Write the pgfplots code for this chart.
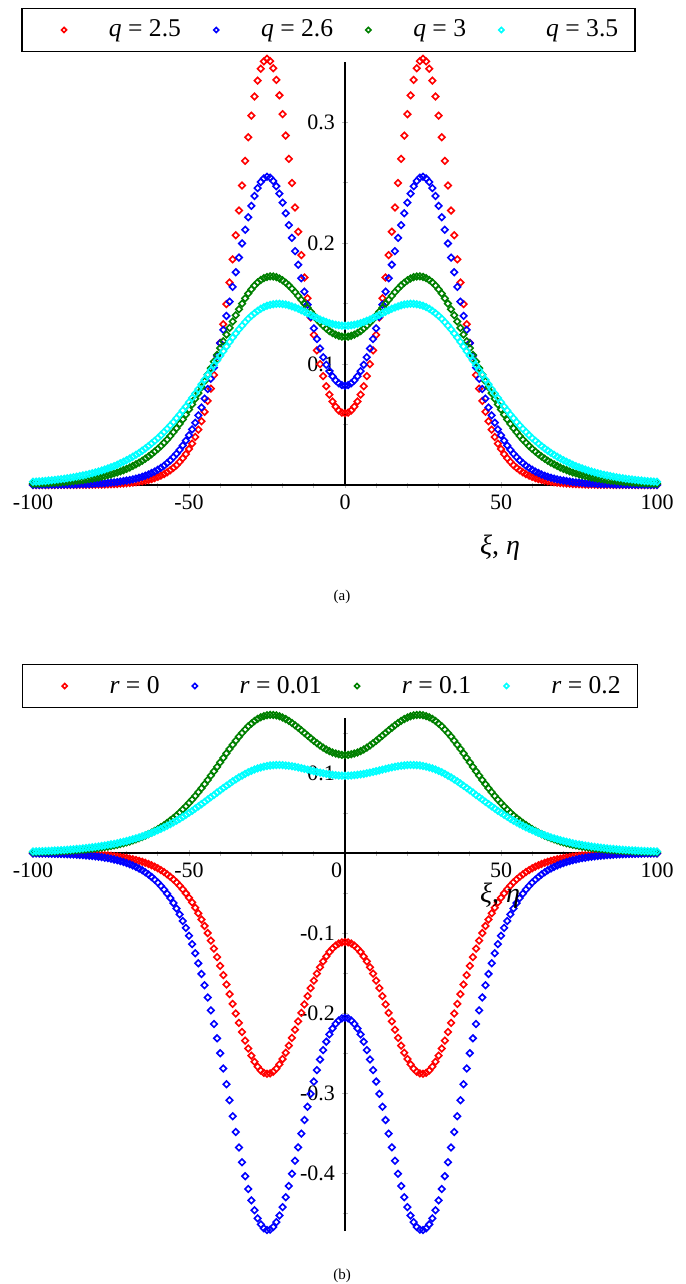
\documentclass[border=0pt]{standalone}
\usepackage{fontspec}
\setmainfont{Liberation Serif}
\usepackage{pgfplots}
\usepackage{pgfplotstable}
\pgfplotsset{compat=1.18}
\definecolor{mred}{RGB}{255,0,0}
\definecolor{mblue}{RGB}{0,0,255}
\definecolor{mgreen}{RGB}{0,128,0}
\definecolor{mcyan}{RGB}{0,255,255}

\pgfplotstableread{
x Ra Ba G Ca
-100 0.0000 0.0001 0.0011 0.0026
-99 0.0000 0.0001 0.0012 0.0028
-98 0.0000 0.0001 0.0013 0.0030
-97 0.0000 0.0001 0.0014 0.0032
-96 0.0000 0.0001 0.0015 0.0034
-95 0.0000 0.0002 0.0016 0.0037
-94 0.0000 0.0002 0.0018 0.0039
-93 0.0000 0.0002 0.0019 0.0042
-92 0.0001 0.0002 0.0021 0.0045
-91 0.0001 0.0003 0.0023 0.0049
-90 0.0001 0.0003 0.0025 0.0052
-89 0.0001 0.0004 0.0027 0.0056
-88 0.0001 0.0004 0.0030 0.0060
-87 0.0001 0.0004 0.0032 0.0064
-86 0.0001 0.0005 0.0035 0.0069
-85 0.0002 0.0006 0.0038 0.0074
-84 0.0002 0.0007 0.0041 0.0079
-83 0.0002 0.0007 0.0045 0.0085
-82 0.0002 0.0008 0.0049 0.0091
-81 0.0003 0.0009 0.0053 0.0097
-80 0.0003 0.0011 0.0058 0.0104
-79 0.0004 0.0012 0.0063 0.0112
-78 0.0004 0.0014 0.0069 0.0120
-77 0.0005 0.0015 0.0075 0.0128
-76 0.0006 0.0018 0.0081 0.0137
-75 0.0007 0.0020 0.0088 0.0147
-74 0.0008 0.0022 0.0096 0.0157
-73 0.0009 0.0025 0.0104 0.0168
-72 0.0011 0.0029 0.0113 0.0180
-71 0.0013 0.0033 0.0123 0.0192
-70 0.0015 0.0037 0.0134 0.0205
-69 0.0017 0.0042 0.0145 0.0219
-68 0.0020 0.0047 0.0158 0.0234
-67 0.0023 0.0053 0.0171 0.0250
-66 0.0027 0.0060 0.0185 0.0266
-65 0.0031 0.0068 0.0201 0.0284
-64 0.0036 0.0077 0.0218 0.0303
-63 0.0042 0.0087 0.0236 0.0322
-62 0.0049 0.0099 0.0255 0.0343
-61 0.0057 0.0111 0.0276 0.0365
-60 0.0067 0.0126 0.0299 0.0388
-59 0.0078 0.0142 0.0323 0.0412
-58 0.0090 0.0160 0.0349 0.0438
-57 0.0105 0.0181 0.0376 0.0464
-56 0.0122 0.0204 0.0406 0.0492
-55 0.0142 0.0230 0.0437 0.0521
-54 0.0164 0.0259 0.0470 0.0552
-53 0.0191 0.0291 0.0505 0.0583
-52 0.0221 0.0327 0.0543 0.0616
-51 0.0256 0.0367 0.0582 0.0649
-50 0.0297 0.0412 0.0624 0.0684
-49 0.0343 0.0461 0.0667 0.0720
-48 0.0397 0.0516 0.0713 0.0757
-47 0.0458 0.0576 0.0760 0.0794
-46 0.0527 0.0642 0.0809 0.0833
-45 0.0606 0.0715 0.0860 0.0872
-44 0.0696 0.0794 0.0913 0.0911
-43 0.0797 0.0879 0.0967 0.0951
-42 0.0910 0.0971 0.1021 0.0990
-41 0.1037 0.1069 0.1077 0.1030
-40 0.1176 0.1174 0.1133 0.1069
-39 0.1330 0.1284 0.1189 0.1108
-38 0.1497 0.1399 0.1245 0.1146
-37 0.1676 0.1517 0.1300 0.1184
-36 0.1867 0.1639 0.1353 0.1220
-35 0.2066 0.1761 0.1405 0.1254
-34 0.2271 0.1882 0.1454 0.1288
-33 0.2478 0.1999 0.1501 0.1319
-32 0.2682 0.2112 0.1544 0.1348
-31 0.2877 0.2216 0.1584 0.1375
-30 0.3056 0.2310 0.1619 0.1400
-29 0.3215 0.2391 0.1650 0.1422
-28 0.3346 0.2457 0.1676 0.1441
-27 0.3444 0.2507 0.1697 0.1458
-26 0.3505 0.2538 0.1712 0.1472
-25 0.3527 0.2550 0.1722 0.1483
-24 0.3508 0.2543 0.1727 0.1491
-23 0.3448 0.2516 0.1726 0.1496
-22 0.3352 0.2472 0.1720 0.1499
-21 0.3224 0.2411 0.1709 0.1499
-20 0.3068 0.2336 0.1694 0.1497
-19 0.2891 0.2248 0.1674 0.1493
-18 0.2699 0.2150 0.1651 0.1487
-17 0.2499 0.2045 0.1625 0.1478
-16 0.2296 0.1935 0.1596 0.1469
-15 0.2096 0.1823 0.1565 0.1458
-14 0.1902 0.1711 0.1533 0.1446
-13 0.1717 0.1600 0.1500 0.1434
-12 0.1545 0.1493 0.1467 0.1421
-11 0.1386 0.1392 0.1435 0.1407
-10 0.1242 0.1296 0.1403 0.1394
-9 0.1114 0.1208 0.1373 0.1382
-8 0.1000 0.1129 0.1344 0.1370
-7 0.0901 0.1057 0.1318 0.1359
-6 0.0817 0.0995 0.1295 0.1349
-5 0.0748 0.0943 0.1274 0.1340
-4 0.0691 0.0899 0.1257 0.1332
-3 0.0648 0.0865 0.1244 0.1326
-2 0.0617 0.0841 0.1234 0.1322
-1 0.0599 0.0827 0.1228 0.1319
0 0.0593 0.0822 0.1226 0.1318
1 0.0599 0.0827 0.1228 0.1319
2 0.0617 0.0841 0.1234 0.1322
3 0.0648 0.0865 0.1244 0.1326
4 0.0691 0.0899 0.1257 0.1332
5 0.0748 0.0943 0.1274 0.1340
6 0.0817 0.0995 0.1295 0.1349
7 0.0901 0.1057 0.1318 0.1359
8 0.1000 0.1129 0.1344 0.1370
9 0.1114 0.1208 0.1373 0.1382
10 0.1242 0.1296 0.1403 0.1394
11 0.1386 0.1392 0.1435 0.1407
12 0.1545 0.1493 0.1467 0.1421
13 0.1717 0.1600 0.1500 0.1434
14 0.1902 0.1711 0.1533 0.1446
15 0.2096 0.1823 0.1565 0.1458
16 0.2296 0.1935 0.1596 0.1469
17 0.2499 0.2045 0.1625 0.1478
18 0.2699 0.2150 0.1651 0.1487
19 0.2891 0.2248 0.1674 0.1493
20 0.3068 0.2336 0.1694 0.1497
21 0.3224 0.2411 0.1709 0.1499
22 0.3352 0.2472 0.1720 0.1499
23 0.3448 0.2516 0.1726 0.1496
24 0.3508 0.2543 0.1727 0.1491
25 0.3527 0.2550 0.1722 0.1483
26 0.3505 0.2538 0.1712 0.1472
27 0.3444 0.2507 0.1697 0.1458
28 0.3346 0.2457 0.1676 0.1441
29 0.3215 0.2391 0.1650 0.1422
30 0.3056 0.2310 0.1619 0.1400
31 0.2877 0.2216 0.1584 0.1375
32 0.2682 0.2112 0.1544 0.1348
33 0.2478 0.1999 0.1501 0.1319
34 0.2271 0.1882 0.1454 0.1288
35 0.2066 0.1761 0.1405 0.1254
36 0.1867 0.1639 0.1353 0.1220
37 0.1676 0.1517 0.1300 0.1184
38 0.1497 0.1399 0.1245 0.1146
39 0.1330 0.1284 0.1189 0.1108
40 0.1176 0.1174 0.1133 0.1069
41 0.1037 0.1069 0.1077 0.1030
42 0.0910 0.0971 0.1021 0.0990
43 0.0797 0.0879 0.0967 0.0951
44 0.0696 0.0794 0.0913 0.0911
45 0.0606 0.0715 0.0860 0.0872
46 0.0527 0.0642 0.0809 0.0833
47 0.0458 0.0576 0.0760 0.0794
48 0.0397 0.0516 0.0713 0.0757
49 0.0343 0.0461 0.0667 0.0720
50 0.0297 0.0412 0.0624 0.0684
51 0.0256 0.0367 0.0582 0.0649
52 0.0221 0.0327 0.0543 0.0616
53 0.0191 0.0291 0.0505 0.0583
54 0.0164 0.0259 0.0470 0.0552
55 0.0142 0.0230 0.0437 0.0521
56 0.0122 0.0204 0.0406 0.0492
57 0.0105 0.0181 0.0376 0.0464
58 0.0090 0.0160 0.0349 0.0438
59 0.0078 0.0142 0.0323 0.0412
60 0.0067 0.0126 0.0299 0.0388
61 0.0057 0.0111 0.0276 0.0365
62 0.0049 0.0099 0.0255 0.0343
63 0.0042 0.0087 0.0236 0.0322
64 0.0036 0.0077 0.0218 0.0303
65 0.0031 0.0068 0.0201 0.0284
66 0.0027 0.0060 0.0185 0.0266
67 0.0023 0.0053 0.0171 0.0250
68 0.0020 0.0047 0.0158 0.0234
69 0.0017 0.0042 0.0145 0.0219
70 0.0015 0.0037 0.0134 0.0205
71 0.0013 0.0033 0.0123 0.0192
72 0.0011 0.0029 0.0113 0.0180
73 0.0009 0.0025 0.0104 0.0168
74 0.0008 0.0022 0.0096 0.0157
75 0.0007 0.0020 0.0088 0.0147
76 0.0006 0.0018 0.0081 0.0137
77 0.0005 0.0015 0.0075 0.0128
78 0.0004 0.0014 0.0069 0.0120
79 0.0004 0.0012 0.0063 0.0112
80 0.0003 0.0011 0.0058 0.0104
81 0.0003 0.0009 0.0053 0.0097
82 0.0002 0.0008 0.0049 0.0091
83 0.0002 0.0007 0.0045 0.0085
84 0.0002 0.0007 0.0041 0.0079
85 0.0002 0.0006 0.0038 0.0074
86 0.0001 0.0005 0.0035 0.0069
87 0.0001 0.0004 0.0032 0.0064
88 0.0001 0.0004 0.0030 0.0060
89 0.0001 0.0004 0.0027 0.0056
90 0.0001 0.0003 0.0025 0.0052
91 0.0001 0.0003 0.0023 0.0049
92 0.0001 0.0002 0.0021 0.0045
93 0.0000 0.0002 0.0019 0.0042
94 0.0000 0.0002 0.0018 0.0039
95 0.0000 0.0002 0.0016 0.0037
96 0.0000 0.0001 0.0015 0.0034
97 0.0000 0.0001 0.0014 0.0032
98 0.0000 0.0001 0.0013 0.0030
99 0.0000 0.0001 0.0012 0.0028
100 0.0000 0.0001 0.0011 0.0026
}\tabA

\pgfplotstableread{
x Rb Bb G Cb
-100 -0.0002 -0.0005 0.0011 0.0019
-99 -0.0002 -0.0005 0.0012 0.0020
-98 -0.0003 -0.0006 0.0013 0.0022
-97 -0.0003 -0.0006 0.0014 0.0023
-96 -0.0003 -0.0007 0.0015 0.0025
-95 -0.0004 -0.0008 0.0016 0.0027
-94 -0.0004 -0.0009 0.0018 0.0029
-93 -0.0005 -0.0010 0.0019 0.0031
-92 -0.0005 -0.0011 0.0021 0.0033
-91 -0.0006 -0.0012 0.0023 0.0036
-90 -0.0006 -0.0014 0.0025 0.0038
-89 -0.0007 -0.0015 0.0027 0.0041
-88 -0.0008 -0.0017 0.0030 0.0044
-87 -0.0009 -0.0019 0.0032 0.0047
-86 -0.0010 -0.0022 0.0035 0.0051
-85 -0.0011 -0.0024 0.0038 0.0054
-84 -0.0013 -0.0027 0.0041 0.0058
-83 -0.0014 -0.0030 0.0045 0.0062
-82 -0.0016 -0.0034 0.0049 0.0067
-81 -0.0018 -0.0037 0.0053 0.0071
-80 -0.0020 -0.0042 0.0058 0.0077
-79 -0.0022 -0.0047 0.0063 0.0082
-78 -0.0025 -0.0052 0.0069 0.0088
-77 -0.0028 -0.0058 0.0075 0.0094
-76 -0.0031 -0.0065 0.0081 0.0101
-75 -0.0035 -0.0073 0.0088 0.0108
-74 -0.0040 -0.0081 0.0096 0.0115
-73 -0.0044 -0.0090 0.0104 0.0123
-72 -0.0050 -0.0101 0.0113 0.0132
-71 -0.0056 -0.0113 0.0123 0.0141
-70 -0.0062 -0.0126 0.0134 0.0150
-69 -0.0070 -0.0140 0.0145 0.0161
-68 -0.0078 -0.0156 0.0158 0.0172
-67 -0.0087 -0.0174 0.0171 0.0183
-66 -0.0098 -0.0194 0.0185 0.0195
-65 -0.0109 -0.0216 0.0201 0.0208
-64 -0.0122 -0.0241 0.0218 0.0222
-63 -0.0137 -0.0269 0.0236 0.0236
-62 -0.0153 -0.0299 0.0255 0.0252
-61 -0.0171 -0.0333 0.0276 0.0268
-60 -0.0191 -0.0370 0.0299 0.0285
-59 -0.0213 -0.0412 0.0323 0.0302
-58 -0.0238 -0.0457 0.0349 0.0321
-57 -0.0266 -0.0508 0.0376 0.0341
-56 -0.0296 -0.0564 0.0406 0.0361
-55 -0.0330 -0.0625 0.0437 0.0382
-54 -0.0367 -0.0693 0.0470 0.0405
-53 -0.0408 -0.0767 0.0505 0.0428
-52 -0.0454 -0.0849 0.0543 0.0452
-51 -0.0503 -0.0937 0.0582 0.0476
-50 -0.0558 -0.1034 0.0624 0.0502
-49 -0.0618 -0.1140 0.0667 0.0528
-48 -0.0683 -0.1254 0.0713 0.0555
-47 -0.0753 -0.1378 0.0760 0.0583
-46 -0.0830 -0.1511 0.0809 0.0611
-45 -0.0912 -0.1653 0.0860 0.0639
-44 -0.1001 -0.1805 0.0913 0.0668
-43 -0.1095 -0.1967 0.0967 0.0697
-42 -0.1195 -0.2137 0.1021 0.0726
-41 -0.1301 -0.2316 0.1077 0.0756
-40 -0.1411 -0.2502 0.1133 0.0784
-39 -0.1526 -0.2694 0.1189 0.0813
-38 -0.1644 -0.2891 0.1245 0.0841
-37 -0.1764 -0.3090 0.1300 0.0868
-36 -0.1886 -0.3290 0.1353 0.0895
-35 -0.2006 -0.3488 0.1405 0.0920
-34 -0.2124 -0.3681 0.1454 0.0945
-33 -0.2238 -0.3866 0.1501 0.0967
-32 -0.2345 -0.4040 0.1544 0.0989
-31 -0.2444 -0.4200 0.1584 0.1009
-30 -0.2533 -0.4343 0.1619 0.1027
-29 -0.2609 -0.4466 0.1650 0.1043
-28 -0.2671 -0.4566 0.1676 0.1057
-27 -0.2718 -0.4642 0.1697 0.1069
-26 -0.2747 -0.4691 0.1712 0.1079
-25 -0.2760 -0.4712 0.1722 0.1088
-24 -0.2755 -0.4707 0.1727 0.1094
-23 -0.2734 -0.4674 0.1726 0.1098
-22 -0.2696 -0.4615 0.1720 0.1100
-21 -0.2642 -0.4532 0.1709 0.1100
-20 -0.2575 -0.4427 0.1694 0.1098
-19 -0.2496 -0.4302 0.1674 0.1095
-18 -0.2407 -0.4162 0.1651 0.1091
-17 -0.2311 -0.4009 0.1625 0.1085
-16 -0.2209 -0.3847 0.1596 0.1078
-15 -0.2104 -0.3679 0.1565 0.1070
-14 -0.1998 -0.3508 0.1533 0.1061
-13 -0.1892 -0.3338 0.1500 0.1052
-12 -0.1789 -0.3171 0.1467 0.1042
-11 -0.1689 -0.3010 0.1435 0.1032
-10 -0.1595 -0.2857 0.1403 0.1023
-9 -0.1508 -0.2713 0.1373 0.1014
-8 -0.1427 -0.2582 0.1344 0.1005
-7 -0.1355 -0.2463 0.1318 0.0997
-6 -0.1292 -0.2358 0.1295 0.0989
-5 -0.1237 -0.2268 0.1274 0.0983
-4 -0.1192 -0.2194 0.1257 0.0977
-3 -0.1157 -0.2135 0.1244 0.0973
-2 -0.1132 -0.2093 0.1234 0.0970
-1 -0.1117 -0.2068 0.1228 0.0968
0 -0.1112 -0.2060 0.1226 0.0967
1 -0.1117 -0.2068 0.1228 0.0968
2 -0.1132 -0.2093 0.1234 0.0970
3 -0.1157 -0.2135 0.1244 0.0973
4 -0.1192 -0.2194 0.1257 0.0977
5 -0.1237 -0.2268 0.1274 0.0983
6 -0.1292 -0.2358 0.1295 0.0989
7 -0.1355 -0.2463 0.1318 0.0997
8 -0.1427 -0.2582 0.1344 0.1005
9 -0.1508 -0.2713 0.1373 0.1014
10 -0.1595 -0.2857 0.1403 0.1023
11 -0.1689 -0.3010 0.1435 0.1032
12 -0.1789 -0.3171 0.1467 0.1042
13 -0.1892 -0.3338 0.1500 0.1052
14 -0.1998 -0.3508 0.1533 0.1061
15 -0.2104 -0.3679 0.1565 0.1070
16 -0.2209 -0.3847 0.1596 0.1078
17 -0.2311 -0.4009 0.1625 0.1085
18 -0.2407 -0.4162 0.1651 0.1091
19 -0.2496 -0.4302 0.1674 0.1095
20 -0.2575 -0.4427 0.1694 0.1098
21 -0.2642 -0.4532 0.1709 0.1100
22 -0.2696 -0.4615 0.1720 0.1100
23 -0.2734 -0.4674 0.1726 0.1098
24 -0.2755 -0.4707 0.1727 0.1094
25 -0.2760 -0.4712 0.1722 0.1088
26 -0.2747 -0.4691 0.1712 0.1079
27 -0.2718 -0.4642 0.1697 0.1069
28 -0.2671 -0.4566 0.1676 0.1057
29 -0.2609 -0.4466 0.1650 0.1043
30 -0.2533 -0.4343 0.1619 0.1027
31 -0.2444 -0.4200 0.1584 0.1009
32 -0.2345 -0.4040 0.1544 0.0989
33 -0.2238 -0.3866 0.1501 0.0967
34 -0.2124 -0.3681 0.1454 0.0945
35 -0.2006 -0.3488 0.1405 0.0920
36 -0.1886 -0.3290 0.1353 0.0895
37 -0.1764 -0.3090 0.1300 0.0868
38 -0.1644 -0.2891 0.1245 0.0841
39 -0.1526 -0.2694 0.1189 0.0813
40 -0.1411 -0.2502 0.1133 0.0784
41 -0.1301 -0.2316 0.1077 0.0756
42 -0.1195 -0.2137 0.1021 0.0726
43 -0.1095 -0.1967 0.0967 0.0697
44 -0.1001 -0.1805 0.0913 0.0668
45 -0.0912 -0.1653 0.0860 0.0639
46 -0.0830 -0.1511 0.0809 0.0611
47 -0.0753 -0.1378 0.0760 0.0583
48 -0.0683 -0.1254 0.0713 0.0555
49 -0.0618 -0.1140 0.0667 0.0528
50 -0.0558 -0.1034 0.0624 0.0502
51 -0.0503 -0.0937 0.0582 0.0476
52 -0.0454 -0.0849 0.0543 0.0452
53 -0.0408 -0.0767 0.0505 0.0428
54 -0.0367 -0.0693 0.0470 0.0405
55 -0.0330 -0.0625 0.0437 0.0382
56 -0.0296 -0.0564 0.0406 0.0361
57 -0.0266 -0.0508 0.0376 0.0341
58 -0.0238 -0.0457 0.0349 0.0321
59 -0.0213 -0.0412 0.0323 0.0302
60 -0.0191 -0.0370 0.0299 0.0285
61 -0.0171 -0.0333 0.0276 0.0268
62 -0.0153 -0.0299 0.0255 0.0252
63 -0.0137 -0.0269 0.0236 0.0236
64 -0.0122 -0.0241 0.0218 0.0222
65 -0.0109 -0.0216 0.0201 0.0208
66 -0.0098 -0.0194 0.0185 0.0195
67 -0.0087 -0.0174 0.0171 0.0183
68 -0.0078 -0.0156 0.0158 0.0172
69 -0.0070 -0.0140 0.0145 0.0161
70 -0.0062 -0.0126 0.0134 0.0150
71 -0.0056 -0.0113 0.0123 0.0141
72 -0.0050 -0.0101 0.0113 0.0132
73 -0.0044 -0.0090 0.0104 0.0123
74 -0.0040 -0.0081 0.0096 0.0115
75 -0.0035 -0.0073 0.0088 0.0108
76 -0.0031 -0.0065 0.0081 0.0101
77 -0.0028 -0.0058 0.0075 0.0094
78 -0.0025 -0.0052 0.0069 0.0088
79 -0.0022 -0.0047 0.0063 0.0082
80 -0.0020 -0.0042 0.0058 0.0077
81 -0.0018 -0.0037 0.0053 0.0071
82 -0.0016 -0.0034 0.0049 0.0067
83 -0.0014 -0.0030 0.0045 0.0062
84 -0.0013 -0.0027 0.0041 0.0058
85 -0.0011 -0.0024 0.0038 0.0054
86 -0.0010 -0.0022 0.0035 0.0051
87 -0.0009 -0.0019 0.0032 0.0047
88 -0.0008 -0.0017 0.0030 0.0044
89 -0.0007 -0.0015 0.0027 0.0041
90 -0.0006 -0.0014 0.0025 0.0038
91 -0.0006 -0.0012 0.0023 0.0036
92 -0.0005 -0.0011 0.0021 0.0033
93 -0.0005 -0.0010 0.0019 0.0031
94 -0.0004 -0.0009 0.0018 0.0029
95 -0.0004 -0.0008 0.0016 0.0027
96 -0.0003 -0.0007 0.0015 0.0025
97 -0.0003 -0.0006 0.0014 0.0023
98 -0.0003 -0.0006 0.0013 0.0022
99 -0.0002 -0.0005 0.0012 0.0020
100 -0.0002 -0.0005 0.0011 0.0019
}\tabB

\pgfplotsset{
  mk/.style={only marks, mark=square, mark size=1.15pt,
    mark options={rotate=45, line width=0.8pt, solid},
    legend image code/.code={\path (0cm,0cm) (0.8cm,0cm);\draw[##1, mark size=0.9pt] plot coordinates {(0.5cm,0cm)};}},
  myax/.style={
    scale only axis, width=312pt, xmin=-100, xmax=100,
    axis lines=middle, axis line style={-, line width=0.8pt, black},
    xtick={-100,-50,0,50,100},
    minor xtick={-90,-80,-70,-60,-40,-30,-20,-10,10,20,30,40,60,70,80,90},
    tick style={gray!55, line width=0.5pt}, major tick length=3pt, minor tick length=2.5pt,
    tick label style={font=\fontsize{11}{13}\selectfont},
    hide obscured x ticks=false, hide obscured y ticks=false,
    clip=false,
    legend columns=4, legend cell align=left,
    legend style={draw=black, line width=0.8pt, font=\fontsize{12.8}{15}\selectfont,
      anchor=center, inner xsep=6.5pt, inner ysep=3.8pt,
      /tikz/every odd column/.append style={column sep=11.5pt},
      /tikz/every even column/.append style={column sep=1pt}},
  }
}

\begin{document}
\begin{tikzpicture}
\useasboundingbox (0,0) rectangle (342.5pt,-642pt);
% panel (a)
\begin{axis}[myax, at={(16.5pt,-242.5pt)}, anchor=south west,
  height=211.5pt, ymin=0, ymax=0.35,
  xticklabels={-100,-50,0,50,100},
  ytick={0.1,0.2,0.3}, yticklabels={0.1,0.2,0.3},
  minor ytick={0.05,0.15,0.25},
  legend style={at={(0.4736,1.0757)}}]
\addplot[mk, color=mred] table[x=x, y=Ra]{\tabA};
\addplot[mk, color=mblue] table[x=x, y=Ba]{\tabA};
\addplot[mk, color=mgreen] table[x=x, y=G]{\tabA};
\addplot[mk, color=mcyan] table[x=x, y=Ca]{\tabA};
\legend{\textit{q} = 2.5, \textit{q} = 2.6, \textit{q} = 3, \textit{q} = 3.5}
\end{axis}
% panel (b)
\begin{axis}[myax, at={(16.5pt,-615.5pt)}, anchor=south west,
  height=256.5pt, ymin=-0.4725, ymax=0.16875,
  xticklabels={-100,-50,{\makebox[0pt][r]{0\kern1.5pt}},50,100},
  ytick={-0.4,-0.3,-0.2,-0.1,0.1}, yticklabels={-0.4,-0.3,-0.2,-0.1,0.1},
  minor ytick={-0.45,-0.35,-0.25,-0.15,-0.05,0.05,0.15},
  legend style={at={(0.476,1.0624)}}]
\addplot[mk, color=mred] table[x=x, y=Rb]{\tabB};
\addplot[mk, color=mblue] table[x=x, y=Bb]{\tabB};
\addplot[mk, color=mgreen] table[x=x, y=G]{\tabB};
\addplot[mk, color=mcyan] table[x=x, y=Cb]{\tabB};
\legend{\textit{r} = 0, \textit{r} = 0.01, \textit{r} = 0.1, \textit{r} = 0.2}
\end{axis}
\node[font=\fontsize{14}{16}\selectfont] at (250pt,-274pt) {\textit{ξ}, \textit{η}};
\node[font=\fontsize{14}{16}\selectfont] at (250pt,-448pt) {\textit{ξ}, \textit{η}};
\node[font=\fontsize{7.5}{9}\selectfont] at (171pt,-298.5pt) {(a)};
\node[font=\fontsize{7.5}{9}\selectfont] at (171pt,-638pt) {(b)};
\end{tikzpicture}
\end{document}
